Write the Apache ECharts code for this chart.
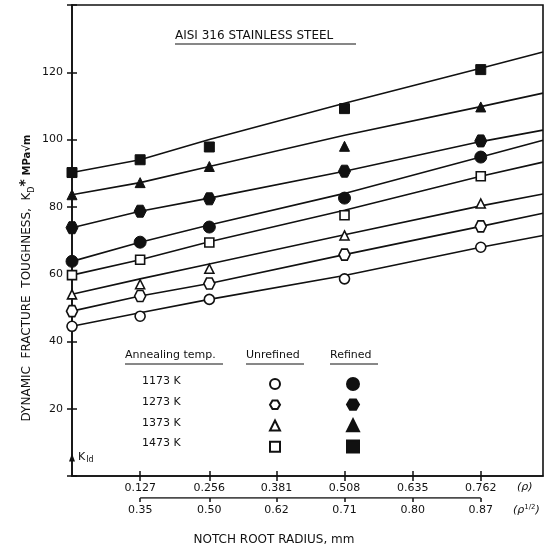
<!DOCTYPE html>
<html>
<head>
<meta charset="utf-8">
<script src="https://cdn.jsdelivr.net/npm/echarts@6/dist/echarts.min.js"></script>
<style>
  html, body { margin: 0; padding: 0; background: #fff; }
  #main { width: 544px; height: 552px; }
</style>
</head>
<body>
<div id="main"></div>
<script>
// notch root radius (mm) where points were measured, 0 = K_Id
const rho = [0, 0.127, 0.256, 0.508, 0.762];
// nodes of the hand-fitted lines (last one = right frame)
const fitRho = [0, 0.127, 0.256, 0.508, 0.762, 0.878];
const rhoTicks = [0.127, 0.256, 0.381, 0.508, 0.635, 0.762];
const rhoLabels = ['0.127', '0.256', '0.381', '0.508', '0.635', '0.762'];
const sqrtLabels = ['0.35', '0.50', '0.62', '0.71', '0.80', '0.87'];
const temps = ['1173 K', '1273 K', '1373 K', '1473 K'];

// measured K_D* values, MPa sqrt(m)
const unref1173 = [44.5, 47.5, 52.5, 58.6, 68.0];
const unref1273 = [49.0, 53.5, 57.2, 65.8, 74.2];
const unref1373 = [54.0, 57.0, 61.6, 71.5, 81.0];
const unref1473 = [59.7, 64.3, 69.4, 77.5, 89.1];
const ref1173 = [63.8, 69.5, 74.0, 82.6, 94.8];
const ref1273 = [73.8, 78.7, 82.4, 90.6, 99.6];
const ref1373 = [83.6, 87.2, 92.0, 98.0, 109.7];
const ref1473 = [90.2, 94.0, 97.8, 109.2, 120.8];

// fitted lines
const fitU1173 = [44.5, 48.5, 52.5, 59.6, 68.0, 71.5];
const fitU1273 = [49.0, 53.5, 57.2, 65.8, 74.2, 78.1];
const fitU1373 = [54.0, 58.6, 63.0, 71.7, 80.3, 83.8];
const fitU1473 = [59.7, 64.3, 69.6, 79.0, 89.1, 93.3];
const fitR1173 = [63.8, 69.5, 74.6, 84.0, 94.8, 99.8];
const fitR1273 = [73.8, 78.7, 82.6, 90.6, 99.4, 102.8];
const fitR1373 = [83.6, 87.2, 92.0, 101.3, 109.8, 113.8];
const fitR1473 = [90.2, 94.0, 100.0, 110.8, 121.2, 126.0];

const kId = 5.5;

const FONT = 'DejaVu Sans';
const INK = '#111';
const HEX = 'path://M-1,0L-0.5,-0.866L0.5,-0.866L1,0L0.5,0.866L-0.5,0.866Z';

function pairs(xs, ys) {
    return ys.map(function (y, i) { return [xs[i], y]; });
}

function pointSeries(name, vals, symbol, size, filled) {
    return {
        name: name,
        type: 'scatter',
        data: pairs(rho, vals),
        symbol: symbol,
        symbolSize: size,
        clip: false,
        z: 5,
        itemStyle: filled
            ? { color: INK, borderColor: INK, borderWidth: 1, opacity: 1 }
            : { color: '#fff', borderColor: INK, borderWidth: 1.6, opacity: 1 }
    };
}

function fitSeries(vals) {
    return {
        type: 'line',
        data: pairs(fitRho, vals),
        showSymbol: false,
        silent: true,
        z: 3,
        lineStyle: { color: INK, width: 1.6 }
    };
}

const option = {
    animation: false,
    backgroundColor: '#fff',
    textStyle: { fontFamily: FONT, color: INK },
    grid: [
        { left: 72, right: 1, top: 5, bottom: 76, show: true, borderColor: INK, borderWidth: 1.6 },
        { left: 72, right: 1, top: 497, height: 1 }
    ],
    xAxis: [
        {
            type: 'value', gridIndex: 0, min: 0, max: 0.878, position: 'bottom',
            splitLine: { show: false },
            axisLine: { show: true, lineStyle: { color: INK, width: 1.6 } },
            axisTick: { show: true, inside: true, length: 5, customValues: rhoTicks, lineStyle: { color: INK, width: 1.5 } },
            axisLabel: {
                customValues: rhoTicks, margin: 7, fontSize: 11, color: INK, fontFamily: FONT,
                formatter: function (v) {
                    const i = rhoTicks.indexOf(v);
                    return i < 0 ? '' : rhoLabels[i];
                }
            }
        },
        {
            type: 'value', gridIndex: 0, min: 0, max: 0.878, position: 'top',
            splitLine: { show: false },
            axisLine: { show: false },
            axisTick: { show: true, inside: true, length: 5, customValues: rhoTicks, lineStyle: { color: INK, width: 1.5 } },
            axisLabel: { show: false }
        },
        {
            type: 'value', gridIndex: 1, min: 0, max: 0.878, position: 'bottom',
            splitLine: { show: false },
            axisLine: { show: false },
            axisTick: { show: true, length: 4, customValues: rhoTicks, lineStyle: { color: INK, width: 1.5 } },
            axisLabel: {
                customValues: rhoTicks, margin: 7, fontSize: 11, color: INK, fontFamily: FONT,
                formatter: function (v) {
                    const i = rhoTicks.indexOf(v);
                    return i < 0 ? '' : sqrtLabels[i];
                }
            }
        }
    ],
    yAxis: [
        {
            type: 'value', gridIndex: 0, min: 0, max: 140, interval: 20, position: 'left',
            splitLine: { show: false },
            axisLine: { show: true, lineStyle: { color: INK, width: 1.6 } },
            axisTick: { show: true, inside: true, length: 5, lineStyle: { color: INK, width: 1.5 } },
            axisLabel: {
                margin: 9, fontSize: 11, color: INK, fontFamily: FONT,
                formatter: function (v) { return (v === 0 || v === 140) ? '' : v; }
            }
        },
        {
            type: 'value', gridIndex: 0, min: 0, max: 140, interval: 20, position: 'right',
            splitLine: { show: false },
            axisLine: { show: false },
            axisTick: { show: true, inside: true, length: 5, lineStyle: { color: INK, width: 1.5 } },
            axisLabel: { show: false }
        },
        {
            type: 'value', gridIndex: 1, min: 0, max: 1, show: false
        }
    ],
    legend: [
        {
            data: temps.map(function (t) { return t + ' unrefined'; }),
            orient: 'vertical', left: 269, top: 378, padding: 0,
            itemWidth: 10, itemHeight: 10, itemGap: 9.4,
            selectedMode: false, formatter: function () { return ''; },
            textStyle: { fontSize: 10 }
        },
        {
            data: temps.map(function (t) { return t + ' refined'; }),
            orient: 'vertical', left: 346, top: 377, padding: 0,
            itemWidth: 12, itemHeight: 12, itemGap: 7.4,
            selectedMode: false, formatter: function () { return ''; },
            textStyle: { fontSize: 10 }
        }
    ],
    series: [
        fitSeries(fitU1173), fitSeries(fitU1273), fitSeries(fitU1373), fitSeries(fitU1473),
        fitSeries(fitR1173), fitSeries(fitR1273), fitSeries(fitR1373), fitSeries(fitR1473),
        pointSeries('1173 K unrefined', unref1173, 'circle', 10, false),
        pointSeries('1273 K unrefined', unref1273, HEX, 11, false),
        pointSeries('1373 K unrefined', unref1373, 'triangle', 9, false),
        pointSeries('1473 K unrefined', unref1473, 'rect', 9, false),
        pointSeries('1173 K refined', ref1173, 'circle', 12, true),
        pointSeries('1273 K refined', ref1273, HEX, 12, true),
        pointSeries('1373 K refined', ref1373, 'triangle', 10, true),
        pointSeries('1473 K refined', ref1473, 'rect', 10, true),
        {
            name: 'KId', type: 'scatter', data: [[0, kId]], symbol: 'triangle', symbolSize: [6, 8],
            clip: false, silent: true, z: 6,
            itemStyle: { color: INK, opacity: 1 },
            label: {
                show: true, position: 'right', distance: 3, color: INK, fontFamily: FONT,
                formatter: 'K{s|Id}', fontSize: 11,
                rich: { s: { fontSize: 8, verticalAlign: 'bottom', padding: [5, 0, 0, 1], fontFamily: FONT, color: INK } }
            }
        },
        {
            // bracket line of the rho^1/2 scale
            type: 'line', xAxisIndex: 2, yAxisIndex: 2, silent: true, showSymbol: false,
            data: [[rhoTicks[0], 0], [rhoTicks[rhoTicks.length - 1], 0]],
            lineStyle: { color: INK, width: 1.5 }
        }
    ],
    graphic: [
        { type: 'text', left: 175, top: 30, style: { text: 'AISI 316 STAINLESS STEEL', font: '12px ' + FONT, fill: INK } },
        { type: 'line', shape: { x1: 175, y1: 44, x2: 356, y2: 44 }, style: { stroke: INK, lineWidth: 1.2 } },

        { type: 'text', left: 125, top: 350, style: { text: 'Annealing temp.', font: '11px ' + FONT, fill: INK } },
        { type: 'line', shape: { x1: 125, y1: 364, x2: 223, y2: 364 }, style: { stroke: INK, lineWidth: 1 } },
        { type: 'text', left: 246, top: 350, style: { text: 'Unrefined', font: '11px ' + FONT, fill: INK } },
        { type: 'line', shape: { x1: 246, y1: 364, x2: 304, y2: 364 }, style: { stroke: INK, lineWidth: 1 } },
        { type: 'text', left: 330, top: 350, style: { text: 'Refined', font: '11px ' + FONT, fill: INK } },
        { type: 'line', shape: { x1: 330, y1: 364, x2: 378, y2: 364 }, style: { stroke: INK, lineWidth: 1 } },
        { type: 'text', left: 142, top: 376, style: { text: temps[0], font: '11px ' + FONT, fill: INK } },
        { type: 'text', left: 142, top: 397, style: { text: temps[1], font: '11px ' + FONT, fill: INK } },
        { type: 'text', left: 142, top: 418, style: { text: temps[2], font: '11px ' + FONT, fill: INK } },
        { type: 'text', left: 142, top: 438, style: { text: temps[3], font: '11px ' + FONT, fill: INK } },

        { type: 'text', left: 517, top: 482, style: { text: '(ρ)', font: 'italic 11px ' + FONT, fill: INK } },
        {
            type: 'text', left: 513, top: 504,
            style: {
                text: '(ρ{s|1/2})', font: 'italic 11px ' + FONT, fill: INK,
                rich: { s: { fontSize: 7, verticalAlign: 'top', padding: [0, 0, 6, 0], fontFamily: FONT, fill: INK } }
            }
        },
        { type: 'text', x: 274, y: 540, style: { text: 'NOTCH ROOT RADIUS, mm', font: '12px ' + FONT, fill: INK, align: 'center', verticalAlign: 'middle' } },
        {
            type: 'text', x: 27, y: 278, rotation: Math.PI / 2,
            style: {
                text: 'DYNAMIC  FRACTURE  TOUGHNESS,  K{d|D}{p|*} {u|MPa√m}',
                font: '12px ' + FONT, fill: INK, align: 'center', verticalAlign: 'middle',
                rich: {
                    d: { fontSize: 8, verticalAlign: 'bottom', padding: [6, 0, 0, 0], fontFamily: FONT, fill: INK },
                    p: { fontSize: 14, fontWeight: 'bold', verticalAlign: 'top', padding: [0, 0, 4, 0], fontFamily: FONT, fill: INK },
                    u: { fontSize: 10, fontWeight: 'bold', fontFamily: FONT, fill: INK }
                }
            }
        }
    ]
};

const chart = echarts.init(document.getElementById('main'));
chart.setOption(option);
</script>
</body>
</html>
